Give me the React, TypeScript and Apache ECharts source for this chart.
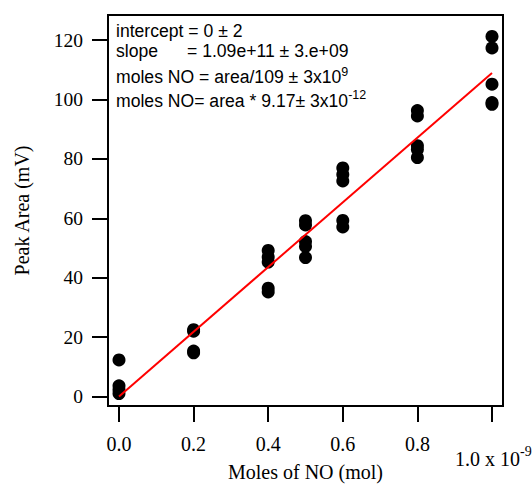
import React, { useEffect, useRef } from "react";
import * as echarts from "echarts";

// Moles of NO in units of 1e-9 mol, and peak areas (mV)
const moles = [
  0, 0, 0, 0,
  0.2, 0.2, 0.2, 0.2,
  0.4, 0.4, 0.4, 0.4, 0.4,
  0.5, 0.5, 0.5, 0.5, 0.5,
  0.6, 0.6, 0.6, 0.6, 0.6,
  0.8, 0.8, 0.8, 0.8, 0.8,
  1.0, 1.0, 1.0, 1.0, 1.0,
];
const peakArea = [
  12.3, 3.6, 2.3, 1.0,
  22.5, 22.0, 15.3, 14.7,
  49.2, 47.0, 45.3, 36.5, 35.2,
  59.2, 57.8, 52.2, 50.5, 46.8,
  77.0, 74.8, 72.6, 59.3, 57.1,
  96.3, 94.5, 84.5, 83.2, 80.5,
  121.3, 117.4, 105.2, 99.0, 98.4,
];
// linear fit: intercept 0, slope 109 mV per 1e-9 mol
const fitX = [0, 1.0];
const fitY = [0, 109];

const xTicks = [0, 0.2, 0.4, 0.6, 0.8, 1.0];
const yTicks = [0, 20, 40, 60, 80, 100, 120];
const lastXLabelMain = "1.0 x 10";
const lastXLabelExp = "-9";

const annotLine1 = "intercept = 0 ± 2";
const annotLine2a = "slope";
const annotLine2b = "= 1.09e+11 ± 3.e+09";
const annotLine3 = "moles NO = area/109 ± 3x10";
const annotLine3Exp = "9";
const annotLine4 = "moles NO= area * 9.17± 3x10";
const annotLine4Exp = "-12";

const SERIF = "'Liberation Serif', 'Times New Roman', serif";
const SANS = "'Liberation Sans', Arial, Helvetica, sans-serif";

export default function App() {
  const ref = useRef<HTMLDivElement>(null);
  useEffect(() => {
    if (!ref.current) return;
    const chart = echarts.init(ref.current, null, { renderer: "svg" });
    const boxFont = 17.6;
    const supFont = 12.5;
    chart.setOption({
      animation: false,
      backgroundColor: "#fff",
      grid: {
        left: 108,
        right: 29,
        top: 15,
        bottom: 75,
        show: true,
        borderColor: "#000",
        borderWidth: 2,
        backgroundColor: "transparent",
      },
      xAxis: {
        type: "value",
        min: -0.0295,
        max: 1.0295,
        name: "Moles of NO (mol)",
        nameLocation: "middle",
        nameGap: 56,
        nameTextStyle: { fontFamily: SERIF, fontSize: 20, color: "#000" },
        axisLine: { show: true, onZero: false, lineStyle: { color: "#000", width: 2 } },
        axisTick: {
          show: true,
          length: 16,
          inside: false,
          lineStyle: { color: "#000", width: 2 },
          customValues: xTicks,
        },
        axisLabel: {
          customValues: xTicks,
          margin: 28,
          fontFamily: SERIF,
          fontSize: 20,
          color: "#000",
          formatter: (v: number) => (Math.abs(v - 1) < 1e-9 ? "" : v.toFixed(1)),
        },
        splitLine: { show: false },
      },
      yAxis: {
        type: "value",
        min: -3.2,
        max: 128.5,
        name: "Peak Area (mV)",
        nameLocation: "middle",
        nameGap: 76,
        nameTextStyle: { fontFamily: SERIF, fontSize: 20, color: "#000" },
        axisLine: { show: true, onZero: false, lineStyle: { color: "#000", width: 2 } },
        axisTick: {
          show: true,
          length: 16,
          inside: false,
          lineStyle: { color: "#000", width: 2 },
          customValues: yTicks,
        },
        axisLabel: {
          customValues: yTicks,
          margin: 25,
          fontFamily: SERIF,
          fontSize: 19.5,
          color: "#000",
        },
        splitLine: { show: false },
      },
      series: [
        {
          type: "scatter",
          data: moles.map((m, i) => [m, peakArea[i]]),
          symbol: "circle",
          symbolSize: 13,
          itemStyle: { color: "#000", opacity: 1 },
          z: 2,
        },
        {
          type: "line",
          data: fitX.map((x, i) => [x, fitY[i]]),
          showSymbol: false,
          symbol: "none",
          lineStyle: { color: "#ff0000", width: 2 },
          z: 3,
        },
      ],
      graphic: [
        {
          type: "text",
          x: 116,
          y: 30.5,
          style: { text: annotLine1, fontFamily: SANS, fontSize: boxFont, lineHeight: 17, fill: "#000", verticalAlign: "middle" },
        },
        {
          type: "text",
          x: 116,
          y: 51,
          style: { text: annotLine2a, fontFamily: SANS, fontSize: boxFont, lineHeight: 17, fill: "#000", verticalAlign: "middle" },
        },
        {
          type: "text",
          x: 187,
          y: 51,
          style: { text: annotLine2b, fontFamily: SANS, fontSize: boxFont, lineHeight: 17, fill: "#000", verticalAlign: "middle" },
        },
        {
          type: "text",
          x: 116,
          y: 76.5,
          style: {
            text: `{m|${annotLine3}}{s|${annotLine3Exp}}`,
            verticalAlign: "middle",
            rich: {
              m: { fontFamily: SANS, fontSize: boxFont, fill: "#000", lineHeight: 22, verticalAlign: "middle" },
              s: { fontFamily: SANS, fontSize: supFont, fill: "#000", lineHeight: 12, verticalAlign: "top" },
            },
          },
        },
        {
          type: "text",
          x: 116,
          y: 100.5,
          style: {
            text: `{m|${annotLine4}}{s|${annotLine4Exp}}`,
            verticalAlign: "middle",
            rich: {
              m: { fontFamily: SANS, fontSize: boxFont, fill: "#000", lineHeight: 25, verticalAlign: "middle" },
              s: { fontFamily: SANS, fontSize: supFont, fill: "#000", lineHeight: 12, verticalAlign: "top" },
            },
          },
        },
        {
          type: "text",
          x: 455,
          y: 459,
          style: {
            text: `{m|${lastXLabelMain}}{s|${lastXLabelExp}}`,
            verticalAlign: "middle",
            rich: {
              m: { fontFamily: SERIF, fontSize: 20, fill: "#000", lineHeight: 30, verticalAlign: "middle" },
              s: { fontFamily: SERIF, fontSize: 14, fill: "#000", lineHeight: 14, verticalAlign: "top" },
            },
          },
        },
      ],
    });
    return () => chart.dispose();
  }, []);
  return (
    <div
      ref={ref}
      style={{ position: "fixed", left: 0, top: 0, width: 532, height: 487, background: "#fff" }}
    />
  );
}
